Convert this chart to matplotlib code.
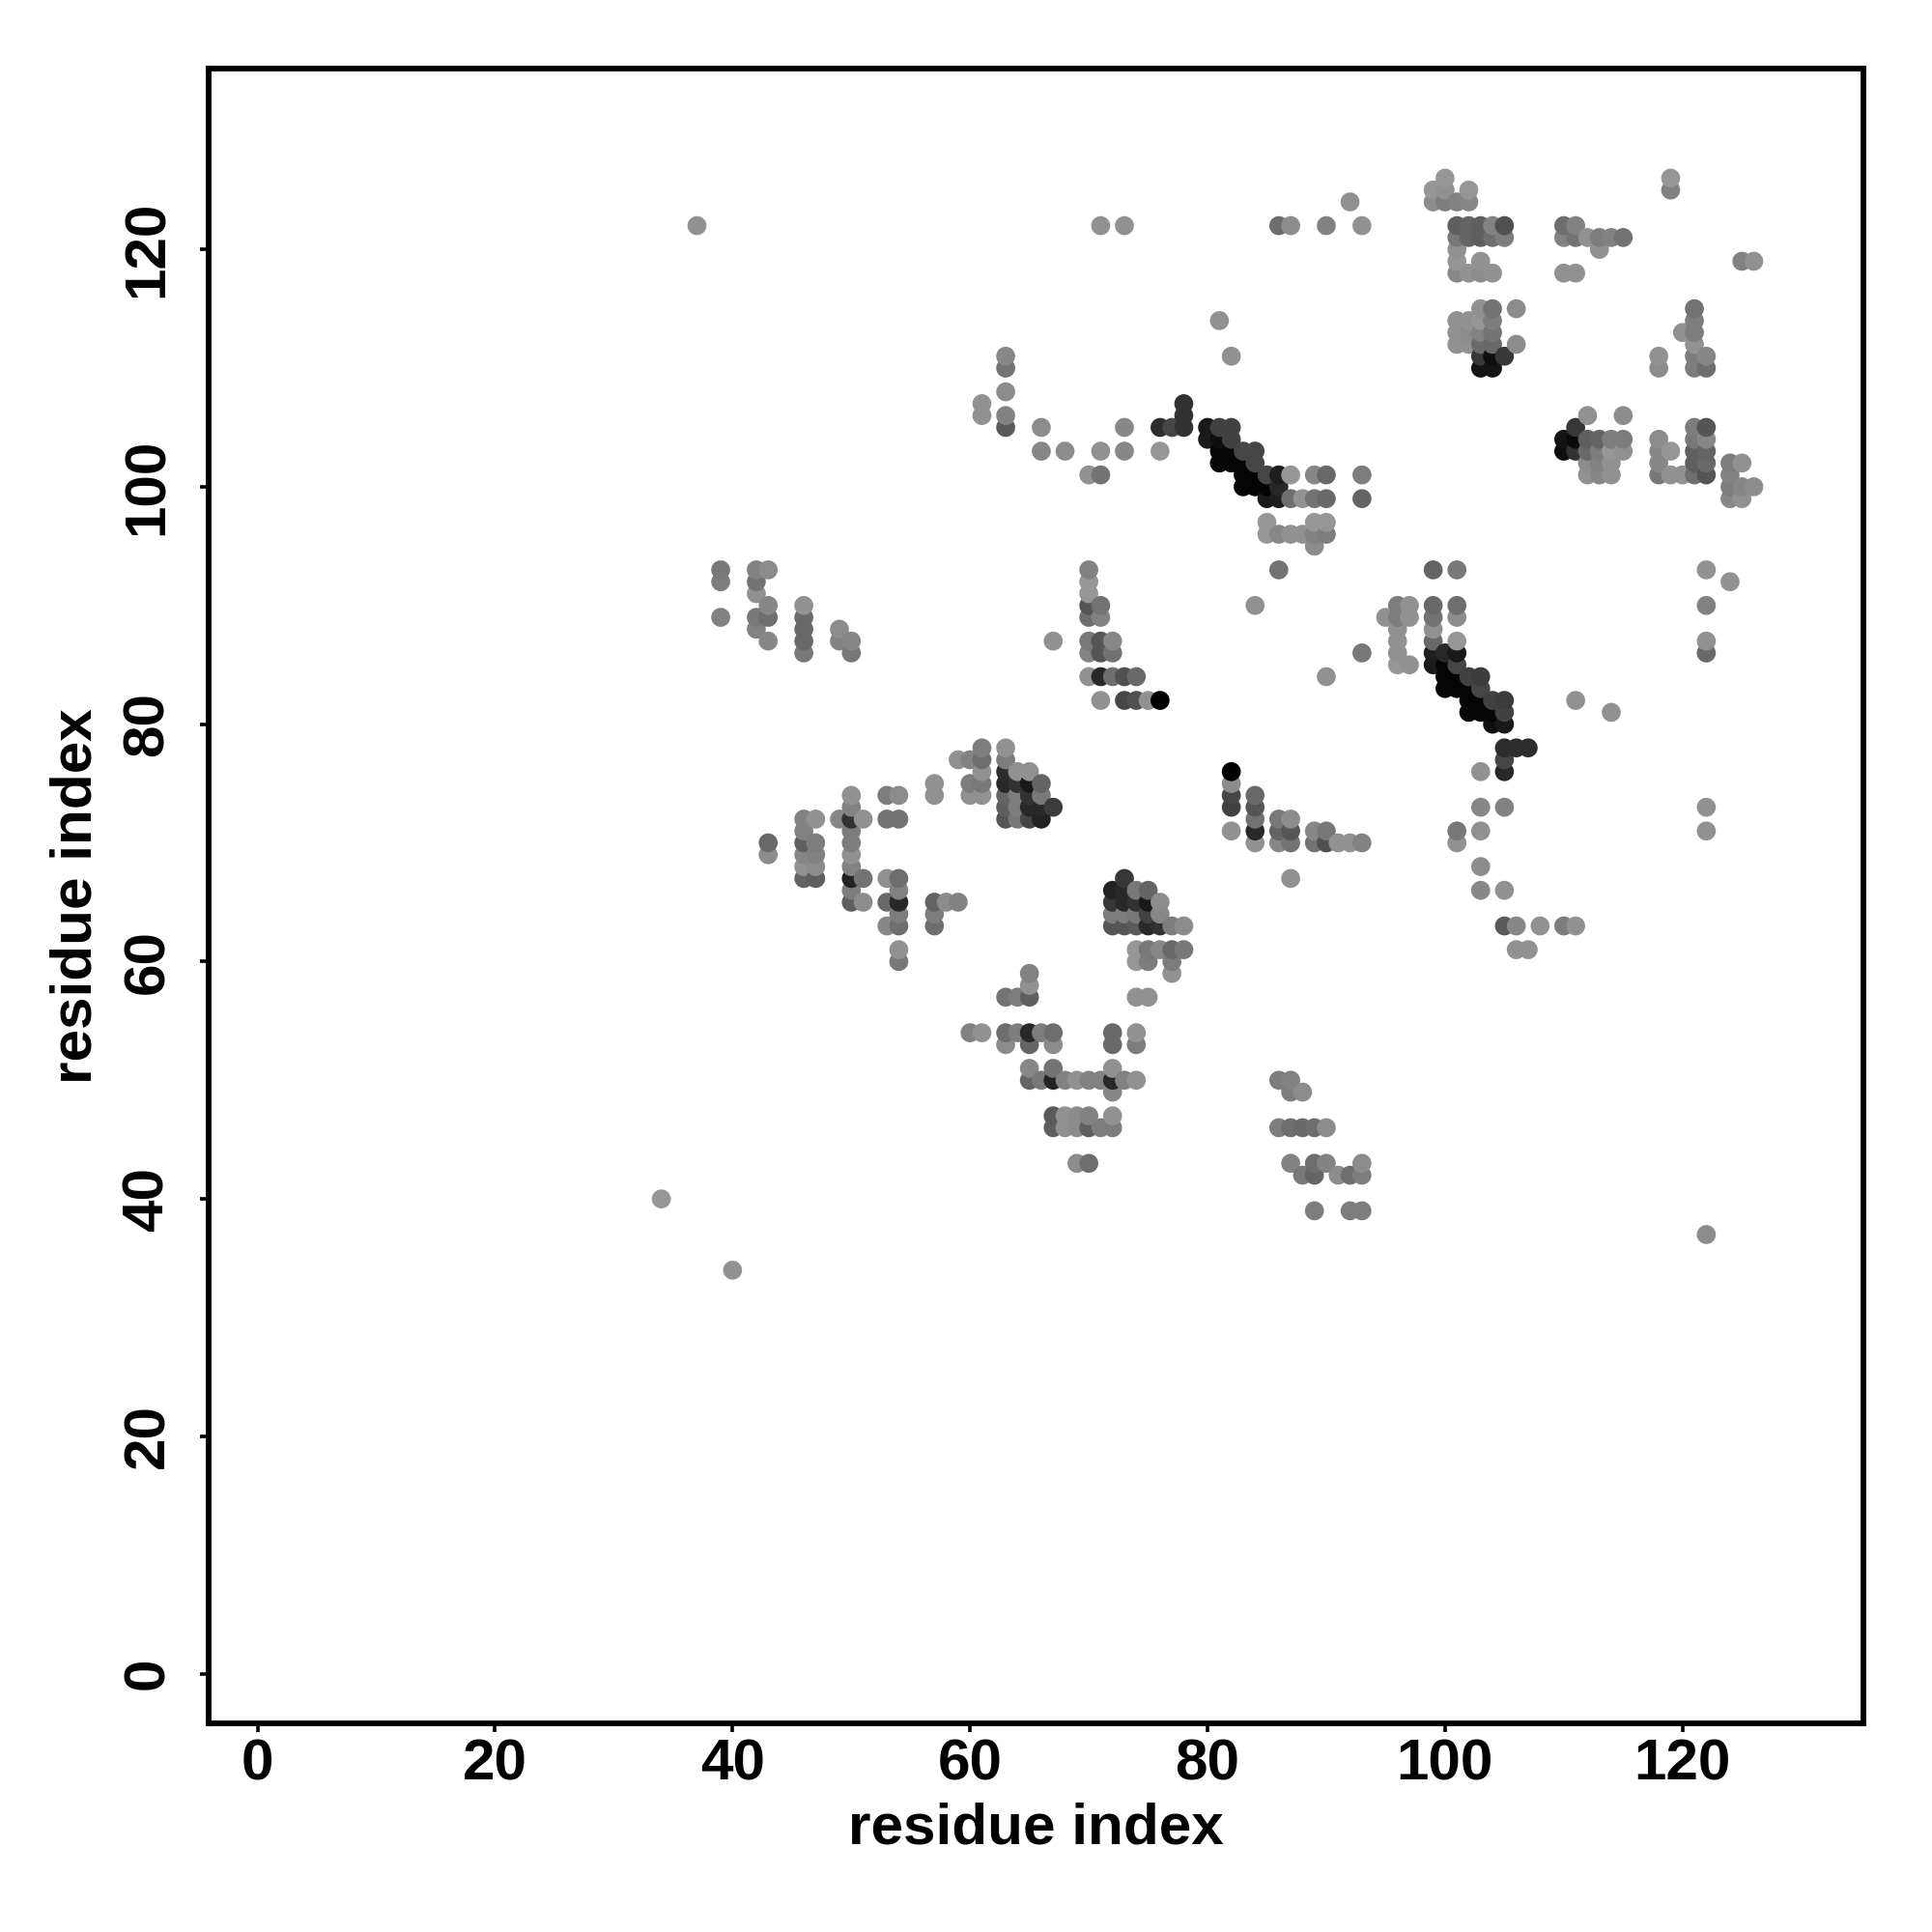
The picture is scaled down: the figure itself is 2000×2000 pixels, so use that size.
import numpy as np
import matplotlib
matplotlib.use('Agg')
import matplotlib.pyplot as plt

plt.rcParams['font.family'] = ['Liberation Sans', 'DejaVu Sans']

axis_label = 'residue index'
tick_values = [0, 20, 40, 60, 80, 100, 120]

# one entry per row of the contact map: y residue, x residues, grey level of each dot
row_y = [126, 125, 124, 122, 121, 120, 119, 118, 115, 114, 113, 112, 111, 110, 108,
         107, 106, 105, 104, 103, 102, 101, 100, 99, 97, 96, 95, 93, 92, 91, 90, 89,
         88, 87, 86, 85, 84, 83, 82, 81, 80, 78, 77, 76, 75, 74, 73, 72, 71, 70, 69,
         68, 67, 66, 65, 64, 63, 61, 60, 59, 58, 57, 54, 53, 51, 50, 49, 47, 46, 43,
         42, 40, 39, 37, 34]

row_x = [
    [100, 119],
    [99, 100, 102, 119],
    [92, 99, 100, 101, 102],
    [37, 71, 73, 86, 87, 90, 93, 101, 102, 103, 104, 105, 110, 111],
    [101, 102, 103, 104, 105, 110, 111, 112, 113, 114, 115],
    [101, 113],
    [101, 103, 125, 126],
    [101, 102, 103, 104, 110, 111],
    [103, 104, 106, 121],
    [81, 101, 102, 103, 104, 121],
    [101, 102, 103, 104, 120, 121],
    [101, 102, 103, 104, 106, 121],
    [63, 82, 103, 104, 105, 118, 121, 122],
    [63, 103, 104, 118, 121, 122],
    [63],
    [61, 78],
    [61, 63, 78, 112, 115],
    [63, 66, 73, 76, 77, 78, 80, 81, 82, 111, 121, 122],
    [80, 81, 82, 110, 111, 112, 113, 114, 115, 118, 121, 122],
    [66, 68, 71, 73, 76, 81, 82, 83, 84, 110, 111, 112, 113, 114, 115, 118, 119, 121, 122],
    [81, 82, 83, 84, 112, 113, 114, 118, 121, 122, 124, 125],
    [70, 71, 83, 84, 85, 86, 87, 89, 90, 93, 112, 113, 114, 118, 119, 120, 121, 122, 124],
    [83, 84, 85, 86, 124, 125, 126],
    [85, 86, 87, 88, 89, 90, 93, 124, 125],
    [85, 89, 90],
    [85, 86, 87, 88, 89, 90],
    [89],
    [39, 42, 43, 70, 86, 99, 101, 122],
    [39, 42, 70, 124],
    [42, 70],
    [43, 46, 70, 71, 84, 96, 97, 99, 101, 122],
    [39, 42, 43, 46, 70, 71, 95, 96, 97, 99, 101],
    [42, 46, 49, 96, 99],
    [43, 46, 49, 50, 67, 70, 71, 72, 96, 99, 101, 122],
    [46, 50, 70, 71, 72, 93, 96, 99, 100, 101, 122],
    [96, 97, 99, 100, 101],
    [70, 71, 72, 73, 74, 90, 100, 101, 102, 103],
    [100, 101, 102, 103],
    [71, 73, 74, 75, 76, 102, 103, 104, 105, 111],
    [102, 103, 104, 105, 114],
    [104, 105],
    [61, 63, 105, 106, 107],
    [59, 60, 61, 63, 105],
    [61, 63, 64, 65, 82, 103, 105],
    [57, 60, 61, 63, 64, 65, 66, 82],
    [50, 53, 54, 57, 60, 61, 63, 64, 65, 66, 82, 84],
    [50, 63, 64, 65, 66, 67, 82, 84, 103, 105, 122],
    [46, 47, 49, 50, 51, 53, 54, 63, 64, 65, 66, 84, 86, 87],
    [46, 50, 82, 84, 86, 87, 89, 90, 101, 103, 122],
    [43, 46, 47, 50, 84, 86, 87, 89, 90, 91, 92, 93, 101],
    [43, 46, 47, 50],
    [46, 47, 50, 103],
    [46, 47, 50, 51, 53, 54, 73, 87],
    [50, 54, 72, 73, 74, 75, 103, 105],
    [50, 51, 53, 54, 57, 58, 59, 72, 73, 74, 75, 76],
    [54, 57, 72, 73, 74, 75, 76],
    [53, 54, 57, 72, 73, 74, 75, 76, 77, 78, 105, 106, 108, 110, 111],
    [54, 74, 75, 76, 77, 78, 106, 107],
    [54, 74, 75, 77],
    [65, 77],
    [65],
    [63, 64, 65, 74, 75],
    [60, 61, 63, 64, 65, 66, 67, 72, 74],
    [63, 65, 67, 72, 74],
    [65, 67, 72],
    [65, 66, 67, 68, 69, 70, 71, 72, 73, 74, 86, 87],
    [72, 87, 88],
    [67, 68, 69, 70, 72],
    [67, 68, 69, 70, 71, 72, 86, 87, 88, 89, 90],
    [69, 70, 87, 89, 90, 93],
    [88, 89, 91, 92, 93],
    [34],
    [89, 92, 93],
    [122],
    [40],
]

row_grey = [
    [150, 150],
    [150, 145, 150, 130],
    [145, 140, 125, 130, 135],
    [145, 145, 145, 110, 140, 130, 145, 95, 100, 95, 130, 80, 110, 130],
    [120, 100, 95, 110, 125, 130, 115, 145, 125, 130, 115],
    [145, 145],
    [150, 145, 130, 145],
    [135, 145, 140, 145, 145, 145],
    [145, 115, 140, 115],
    [145, 145, 145, 150, 125, 125],
    [145, 140, 130, 115, 145, 125],
    [145, 145, 105, 105, 140, 145],
    [135, 145, 55, 15, 55, 145, 125, 135],
    [115, 20, 20, 140, 125, 110],
    [140],
    [145, 50],
    [145, 130, 50, 145, 140],
    [90, 140, 135, 45, 70, 50, 25, 65, 65, 55, 125, 85],
    [25, 15, 65, 20, 10, 95, 100, 125, 125, 140, 120, 135],
    [135, 140, 145, 135, 150, 5, 5, 70, 70, 15, 50, 105, 125, 150, 145, 135, 150, 95, 100],
    [5, 5, 5, 70, 140, 130, 145, 135, 95, 105, 125, 145],
    [145, 115, 5, 5, 70, 30, 150, 135, 105, 125, 145, 135, 145, 120, 145, 145, 110, 85, 130],
    [5, 5, 5, 40, 125, 135, 140],
    [25, 30, 110, 145, 115, 105, 100, 135, 145],
    [150, 150, 150],
    [150, 135, 145, 145, 130, 125],
    [140],
    [120, 130, 140, 130, 115, 100, 120, 145],
    [125, 115, 150, 145],
    [145, 150],
    [135, 145, 85, 115, 145, 125, 145, 105, 110, 130],
    [130, 120, 110, 105, 110, 130, 145, 125, 145, 115, 140],
    [130, 105, 140, 145, 145],
    [135, 105, 130, 135, 145, 120, 85, 135, 145, 105, 150, 145],
    [120, 120, 130, 85, 115, 120, 145, 30, 40, 25, 105],
    [150, 145, 25, 5, 70],
    [145, 40, 110, 80, 105, 145, 5, 5, 65, 60],
    [5, 5, 5, 70],
    [145, 70, 80, 145, 0, 5, 5, 65, 60, 145],
    [5, 5, 5, 65, 145],
    [15, 25],
    [125, 145, 45, 45, 45],
    [145, 130, 110, 125, 70],
    [145, 45, 145, 145, 0, 145, 40],
    [145, 125, 120, 40, 50, 25, 100, 140],
    [145, 125, 140, 145, 145, 145, 100, 125, 50, 120, 70, 105],
    [130, 95, 125, 40, 40, 60, 65, 85, 135, 130, 145],
    [130, 145, 135, 50, 145, 115, 115, 85, 120, 70, 35, 115, 120, 140],
    [130, 125, 145, 40, 100, 85, 135, 120, 120, 145, 145],
    [105, 95, 125, 125, 145, 135, 115, 115, 80, 145, 145, 130, 145],
    [140, 135, 130, 145],
    [145, 140, 130, 140],
    [100, 95, 35, 115, 145, 110, 55, 145],
    [125, 130, 35, 40, 120, 100, 135, 145],
    [95, 140, 105, 40, 100, 140, 130, 55, 40, 50, 25, 140],
    [125, 125, 125, 125, 120, 65, 135],
    [135, 110, 110, 85, 85, 90, 40, 50, 125, 140, 90, 135, 145, 125, 145],
    [145, 150, 120, 135, 105, 120, 145, 145],
    [120, 150, 125, 125],
    [130, 145],
    [145],
    [115, 125, 95, 145, 145],
    [130, 145, 110, 125, 40, 125, 110, 105, 145],
    [140, 100, 140, 105, 125],
    [135, 115, 145],
    [100, 120, 35, 130, 145, 130, 130, 40, 130, 145, 125, 130],
    [135, 125, 140],
    [90, 145, 140, 130, 145],
    [95, 145, 140, 95, 125, 125, 125, 110, 105, 110, 140],
    [140, 110, 130, 110, 130, 140],
    [120, 100, 140, 110, 125],
    [150],
    [125, 125, 125],
    [140],
    [145],
]

xs, ys, greys = [], [], []
for y, x_list, g_list in zip(row_y, row_x, row_grey, strict=True):
    for x, g in zip(x_list, g_list, strict=True):
        xs.append(x)
        ys.append(y)
        greys.append(g)
xs = np.array(xs)
ys = np.array(ys)
greys = np.array(greys)

# later dots sit on top: left to right, bottom to top
order = np.lexsort((ys, xs))

fig = plt.figure(figsize=(10, 10), dpi=200)
ax = fig.add_axes([0.108, 0.1082, 0.8563, 0.8561])

ax.scatter(xs[order], ys[order], s=50, c=greys[order] / 255.0, cmap='gray',
           vmin=0, vmax=1, linewidths=0, zorder=3)

ax.set_xlim(-4.12, 135.2)
ax.set_ylim(-4.15, 135.2)
ax.set_xticks(tick_values)
ax.set_yticks(tick_values)
ax.tick_params(axis='x', length=3.1, width=1.3, pad=2.5, labelsize=21.7)
ax.tick_params(axis='y', length=3.1, width=1.3, pad=9.5, labelsize=21.7)
for lab in ax.get_xticklabels():
    lab.set_fontweight('bold')
for lab in ax.get_yticklabels():
    lab.set_fontweight('bold')
    lab.set_rotation(90)
    lab.set_verticalalignment('center')

ax.set_xlabel(axis_label, fontsize=21.7, fontweight='bold', labelpad=4)
ax.set_ylabel(axis_label, fontsize=21.7, fontweight='bold', labelpad=7)

for s in ax.spines.values():
    s.set_linewidth(2.1)

fig.savefig('out.png', dpi=200, facecolor='white')
